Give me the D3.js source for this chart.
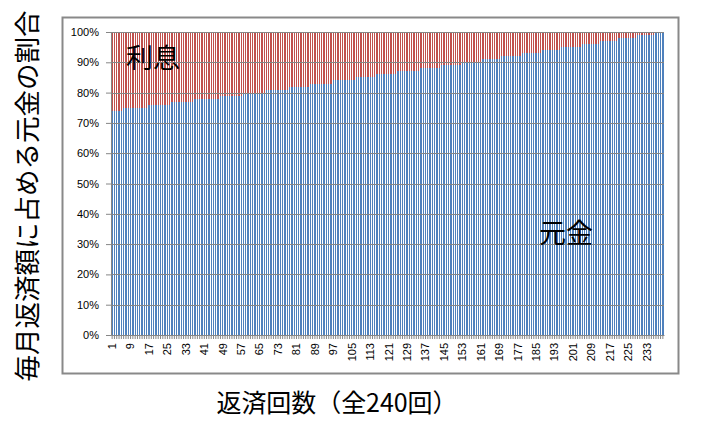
<!DOCTYPE html>
<html><head><meta charset="utf-8">
<script src="https://cdn.jsdelivr.net/npm/d3@7"></script>
<style>body{margin:0;background:#fff}svg{display:block}</style>
</head><body>
<script>
// 元金の割合 (%), payments 1..240
const principal = [
74,74,74,74,74,
75,75,75,75,75,75,75,75,75,75,75,
76,76,76,76,76,76,76,76,76,76,
77,77,77,77,77,77,77,77,77,77,
78,78,78,78,78,78,78,78,78,78,78,
79,79,79,79,79,79,79,79,79,79,
80,80,80,80,80,80,80,80,80,80,
81,81,81,81,81,81,81,81,81,81,
82,82,82,82,82,82,82,82,82,
83,83,83,83,83,83,83,83,83,83,
84,84,84,84,84,84,84,84,84,84,
85,85,85,85,85,85,85,85,85,
86,86,86,86,86,86,86,86,86,
87,87,87,87,87,87,87,87,87,87,
88,88,88,88,88,88,88,88,88,
89,89,89,89,89,89,89,89,89,
90,90,90,90,90,90,90,90,90,
91,91,91,91,91,91,91,91,
92,92,92,92,92,92,92,92,92,
93,93,93,93,93,93,93,93,93,
94,94,94,94,94,94,94,94,
95,95,95,95,95,95,95,95,95,
96,96,96,96,96,96,96,96,
97,97,97,97,97,97,97,97,
98,98,98,98,98,98,98,98,
99,99,99,99,99,99,99,99,
99.6,99.7,99.8,99.9
];
const payments = principal.map((_, i) => i + 1);
const interest = principal.map(v => 100 - v);
const xTickLabels = payments.filter(p => (p - 1) % 8 === 0);
const yTicks = [0,10,20,30,40,50,60,70,80,90,100];
const seriesNames = ["元金", "利息"];
const yTitle = "毎月返済額に占める元金の割合";
const xTitle = "返済回数（全240回）";

const W = 701, H = 429;
const svg = d3.select("body").append("svg").attr("width", W).attr("height", H);
const plot = {l: 111, r: 664, t: 32, b: 335};

svg.append("rect").attr("x", 62.5).attr("y", 17.5).attr("width", 616).attr("height", 356)
  .attr("fill", "#fff").attr("stroke", "#898989").attr("stroke-width", 2);

const x = d3.scaleBand().domain(payments).range([plot.l, plot.r]).paddingInner(0.42).paddingOuter(0.2);
const y = d3.scaleLinear().domain([0, 100]).range([plot.b, plot.t]);

const rows = payments.map((p, i) => ({p, 元金: principal[i], 利息: interest[i]}));
const stacked = d3.stack().keys(seriesNames)(rows);
const colors = {"元金": "#4F81BD", "利息": "#C0504D"};

svg.append("g").attr("shape-rendering", "crispEdges")
  .selectAll("g").data(stacked).join("g").attr("fill", d => colors[d.key])
  .selectAll("rect").data(d => d).join("rect")
  .attr("x", d => x(d.data.p)).attr("width", x.bandwidth())
  .attr("y", d => y(d[1])).attr("height", d => y(d[0]) - y(d[1]));

// gridlines
svg.append("g").selectAll("line").data(yTicks.filter(t => t > 0)).join("line")
  .attr("x1", plot.l).attr("x2", plot.r).attr("y1", d => Math.round(y(d)) + 0.5).attr("y2", d => Math.round(y(d)) + 0.5)
  .attr("stroke", "#868686").attr("stroke-width", 1);

// y axis
const yAxis = svg.append("g").attr("transform", `translate(${plot.l},0)`)
  .call(d3.axisLeft(y).tickValues(yTicks).tickFormat(d => d + "%").tickSize(5).tickPadding(7));
yAxis.select(".domain").attr("stroke", "#868686");
yAxis.selectAll(".tick line").attr("stroke", "#868686");
yAxis.selectAll("text").attr("font-family", "Liberation Sans, Arial, sans-serif").attr("font-size", 11).attr("fill", "#000");

// x axis
const xAxis = svg.append("g").attr("transform", `translate(0,${plot.b})`)
  .call(d3.axisBottom(x).tickSize(4).tickSizeOuter(0).tickFormat(d => xTickLabels.includes(d) ? d : ""));
xAxis.select(".domain").attr("stroke", "#868686");
xAxis.selectAll(".tick line").attr("stroke", "#868686");
xAxis.selectAll("text").attr("font-family", "Liberation Sans, Arial, sans-serif").attr("font-size", 11).attr("fill", "#000")
  .attr("transform", "rotate(-90)").attr("text-anchor", "end").attr("dy", "0.35em").attr("x", -8).attr("y", 0);

// series labels in plot
svg.append("text").attr("x", 126).attr("y", 68).text("利息")
  .attr("font-family", "Noto Sans CJK JP").attr("font-size", 27).attr("fill", "#000");
svg.append("text").attr("x", 539).attr("y", 243).text("元金")
  .attr("font-family", "Noto Sans CJK JP").attr("font-size", 27).attr("fill", "#000");

// axis titles
svg.append("text").attr("transform", "translate(37,196) rotate(-90)").attr("text-anchor", "middle")
  .attr("font-family", "Noto Sans CJK JP").attr("font-size", 26.5).attr("fill", "#000").text(yTitle);
svg.append("text").attr("x", 337).attr("y", 412).attr("text-anchor", "middle")
  .attr("textLength", 241).attr("lengthAdjust", "spacing")
  .attr("font-family", "Noto Sans CJK JP").attr("font-size", 25).attr("fill", "#000").text(xTitle);
</script>
</body></html>
